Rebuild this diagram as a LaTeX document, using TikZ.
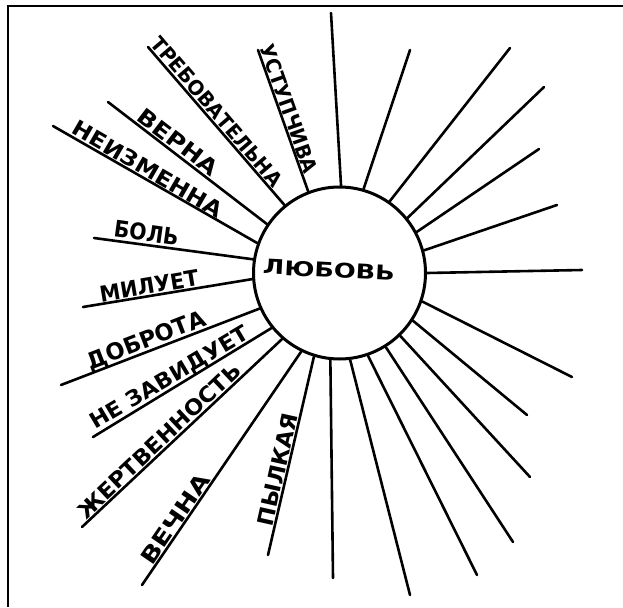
\documentclass[tikz,border=0pt]{standalone}
\usepackage{fontspec}
\setmainfont{DejaVu Sans}
\usetikzlibrary{calc}
\newcommand{\plainray}[3]{%
  \coordinate (e#1) at (#3);
  \coordinate (i#1) at (c.#2);
  \draw[ray] (i#1) -- (e#1);
}
\newcommand{\labray}[9]{%
  \coordinate (e#1) at (#3);
  \coordinate (i#1) at (c.#2);
  \draw[ray] (i#1) -- (e#1);
  \coordinate (m#1) at ($(e#1)!#4!(i#1)$);
  \node[lbl, rotate=#6] (t#1) at ($(m#1)!#5pt!90:(i#1)$) {\resizebox{#7pt}{#8pt}{\bfseries #9}};
}
\begin{document}
\begin{tikzpicture}[x=1pt,y=-1pt,
  ray/.style={line width=2.6pt, line cap=round},
  lbl/.style={inner sep=0pt, outer sep=0pt, anchor=center}]
\useasboundingbox (0,0) rectangle (623,607);
\fill[white] (0,0) rectangle (623,607);
\coordinate (tl) at (8,6);
\coordinate (tr) at (623,6);
\coordinate (bl) at (8,607);
\draw[line width=2.5pt] (tr) -- (tl) -- (bl);
\node[circle, draw, line width=3pt, minimum size=172pt, inner sep=0pt] (c) at (339.5,273) {};
\node[lbl, rotate=-3] (love) at (329,270) {\resizebox{132pt}{15pt}{\bfseries ЛЮБОВЬ}};
% right side rays
\plainray{1}{89}{331,13}
\plainray{2}{74.8}{410,50}
\plainray{3}{55.7}{510,48}
\plainray{4}{39.6}{544,87}
\plainray{5}{28.2}{539,149}
\plainray{6}{15.7}{557,205}
\plainray{7}{0.7}{582,270}
\plainray{8}{-19.2}{572,377}
\plainray{9}{-33.1}{527,415}
\plainray{10}{-46.6}{530,477}
\plainray{11}{-58.3}{513,542}
\plainray{12}{-71.5}{477,575}
\plainray{13}{-83.8}{410,595}
\plainray{14}{-96.8}{333,578}
% labelled rays
\labray{15}{-107.9}{268,555}{0.42}{10}{77.4}{115}{16}{ПЫЛКАЯ}
\labray{16}{-116}{142,585}{0.26}{10}{55.6}{105}{16}{ВЕЧНА}
\labray{17}{-131.7}{82,527}{0.42}{10}{43.3}{215}{16}{ЖЕРТВЕННОСТЬ}
\labray{18}{-141.8}{93,437}{0.46}{10}{30.7}{180}{16}{НЕ ЗАВИДУЕТ}
\labray{19}{-156.4}{61,385}{0.45}{10}{21.1}{125}{17}{ДОБРОТА}
\labray{20}{-176}{83,307}{0.40}{10}{9.5}{100}{16}{МИЛУЕТ}
\labray{21}{171.7}{94,238}{0.32}{12}{-8}{65}{17}{БОЛЬ}
\labray{22}{160.3}{53,126}{0.44}{10}{-30.1}{170}{16}{НЕИЗМЕННА}
\labray{23}{146.1}{108,102}{0.40}{11}{-37.6}{95}{16}{ВЕРНА}
\labray{24}{129.7}{148,47}{0.45}{10}{-49.5}{190}{15}{ТРЕБОВАТЕЛЬНА}
\labray{25}{111.3}{258,50}{0.44}{9.5}{-70.6}{135}{15}{УСТУПЧИВА}
\end{tikzpicture}
\end{document}
